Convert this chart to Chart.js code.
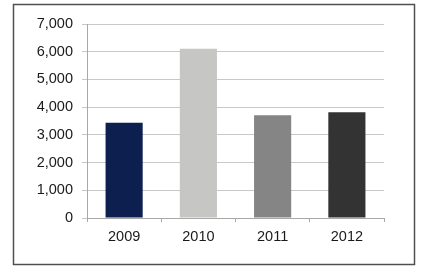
<!DOCTYPE html>
<html>
<head>
<meta charset="utf-8">
<script src="https://cdn.jsdelivr.net/npm/chart.js@4"></script>
<style>
  html, body { margin: 0; padding: 0; background: #fff; }
  #wrap { width: 425px; height: 272px; position: relative; }
</style>
</head>
<body>
<div id="wrap"><canvas id="salesChart"></canvas></div>
<script>
// data
const years = ["2009", "2010", "2011", "2012"];
const values = [3440, 6110, 3710, 3820];
const barColors = ["#0c1f4f", "#c6c6c4", "#858585", "#333333"];
const yTicks = [0, 1000, 2000, 3000, 4000, 5000, 6000, 7000];

// outer frame round the whole chart
const framePlugin = {
  id: "frame",
  beforeDraw(chart) {
    const c = chart.ctx;
    c.save();
    c.strokeStyle = "#505050";
    c.lineWidth = 1.5;
    c.strokeRect(13.5, 4.5, 401, 260);
    c.restore();
  },
};

const ctx = document.getElementById("salesChart").getContext("2d");
const salesChart = new Chart(ctx, {
  type: "bar",
  data: {
    labels: years,
    datasets: [
      {
        data: values,
        backgroundColor: barColors,
        borderWidth: 0,
        barPercentage: 0.5,
        categoryPercentage: 1,
      },
    ],
  },
  options: {
    responsive: true,
    maintainAspectRatio: false,
    animation: false,
    layout: { padding: { left: 0, right: 41, top: 24, bottom: 0 } },
    plugins: {
      legend: { display: false },
      tooltip: { enabled: false },
    },
    scales: {
      x: {
        afterFit: (s) => { s.height = 54; },
        grid: {
          drawOnChartArea: false,
          drawTicks: true,
          tickLength: 4,
          color: "#a8a8a8",
        },
        border: { color: "#a8a8a8", width: 1 },
        ticks: {
          padding: 6,
          color: "#1a1a1a",
          font: { family: "Liberation Sans, Arial", size: 14.5 },
        },
      },
      y: {
        min: 0,
        max: 7000,
        afterFit: (s) => { s.width = 87; },
        afterBuildTicks: (s) => { s.ticks = yTicks.map((v) => ({ value: v })); },
        grid: { color: "#c8c8c8", tickLength: 5 },
        border: { color: "#a8a8a8", width: 1 },
        ticks: {
          padding: 9,
          color: "#1a1a1a",
          font: { family: "Liberation Sans, Arial", size: 14.5 },
          callback: (v) => v.toLocaleString("en-US"),
        },
      },
    },
  },
  plugins: [framePlugin],
});
</script>
</body>
</html>
